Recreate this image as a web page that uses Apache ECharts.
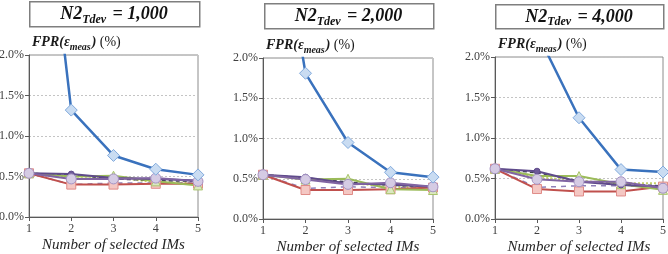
<!DOCTYPE html>
<html>
<head>
<meta charset="utf-8">
<script src="https://cdn.jsdelivr.net/npm/echarts@6/dist/echarts.min.js"></script>
<style>
  html, body { margin: 0; padding: 0; background: #fff; }
  #chart { width: 668px; height: 254px; }
</style>
</head>
<body>
<div id="chart"></div>
<script>
// number of selected IMs (x axis)
const imCounts = [1, 2, 3, 4, 5];
const yTicks = [0, 0.5, 1.0, 1.5, 2.0];
const panelValues = ["1,000", "2,000", "4,000"];

// FPR (%) per panel (first blue points are above the top)
const blueDiamond = [
  [5.8, 1.32, 0.76, 0.59, 0.52],
  [5.0, 1.81, 0.95, 0.58, 0.52],
  [5.0, 2.30, 1.25, 0.61, 0.58]
];
const redSquare = [
  [0.54, 0.40, 0.40, 0.41, 0.41],
  [0.55, 0.36, 0.36, 0.37, 0.39],
  [0.62, 0.37, 0.34, 0.34, 0.40]
];
const greenTriangle = [
  [0.54, 0.50, 0.51, 0.44, 0.39],
  [0.55, 0.49, 0.50, 0.37, 0.36],
  [0.62, 0.53, 0.53, 0.43, 0.36]
];
const darkPurple = [
  [0.54, 0.53, 0.48, 0.47, 0.45],
  [0.55, 0.52, 0.44, 0.43, 0.40],
  [0.62, 0.59, 0.46, 0.42, 0.40]
];
const lavenderCircle = [
  [0.54, 0.47, 0.47, 0.48, 0.44],
  [0.55, 0.49, 0.43, 0.45, 0.40],
  [0.62, 0.49, 0.46, 0.46, 0.38]
];
const dashedDark = [
  [0.54, 0.52, 0.47, 0.45, 0.44],
  [0.55, 0.51, 0.46, 0.42, 0.40],
  [0.62, 0.57, 0.47, 0.43, 0.41]
];
const dashedLow = [
  [0.54, 0.40, 0.42, 0.42, 0.42],
  [0.55, 0.38, 0.40, 0.39, 0.39],
  [0.62, 0.39, 0.41, 0.41, 0.40]
];
const dottedOlive = [
  [0.54, 0.50, 0.49, 0.43, 0.42],
  [0.55, 0.50, 0.45, 0.40, 0.39],
  [0.62, 0.52, 0.47, 0.44, 0.44]
];

// plot boxes (left, top, width, height) and title boxes
const grids = [
  { left: 29, top: 55, width: 169, height: 162 },
  { left: 263, top: 58, width: 170, height: 161 },
  { left: 495, top: 57, width: 168, height: 162 }
];
const titleBoxes = [
  { x: 29, y: 1, w: 170, h: 25 },
  { x: 264, y: 3, w: 169, h: 25 },
  { x: 495, y: 4, w: 168, h: 24 }
];

const serif = "'Liberation Serif', 'DejaVu Serif', serif";
const pairs = arr => arr.map((v, i) => [imCounts[i], v]);

const myChart = echarts.init(document.getElementById("chart"));

const grid = [], xAxis = [], yAxis = [], series = [], graphic = [];

grids.forEach((g, p) => {
  grid.push({
    left: g.left, top: g.top, width: g.width, height: g.height,
    outerBoundsMode: "none", containLabel: false,
    show: true, borderColor: "#8c8c8c", borderWidth: 1, backgroundColor: "transparent"
  });
  xAxis.push({
    gridIndex: p, type: "value", min: 1, max: 5, interval: 1,
    name: "Number of selected IMs", nameLocation: "middle", nameGap: 21,
    nameMoveOverlap: false,
    nameTextStyle: { fontFamily: serif, fontStyle: "italic", fontSize: 15, color: "#262626" },
    axisLine: { lineStyle: { color: "#595959", width: 1 } },
    axisTick: { show: true, length: 4, lineStyle: { color: "#595959" } },
    axisLabel: { fontFamily: serif, fontSize: 12, color: "#404040", margin: 6 },
    splitLine: { show: false }
  });
  yAxis.push({
    gridIndex: p, type: "value", min: 0, max: 2, interval: 0.5,
    name: "{b|FPR(ε}{s|meas}{b|)} {r|(%)}", nameLocation: "end", nameGap: 3,
    nameMoveOverlap: false,
    nameTextStyle: {
      align: "left", padding: [0, 0, 0, 3],
      rich: {
        b: { fontFamily: serif, fontWeight: "bold", fontStyle: "italic", fontSize: 14, color: "#1a1a1a", lineHeight: 19 },
        s: { fontFamily: serif, fontWeight: "bold", fontStyle: "italic", fontSize: 10, color: "#1a1a1a", lineHeight: 10, verticalAlign: "bottom", padding: [0, 1, 0, 0] },
        r: { fontFamily: serif, fontSize: 14, color: "#1a1a1a", lineHeight: 19 }
      }
    },
    axisLine: { show: true, lineStyle: { color: "#595959", width: 1 } },
    axisTick: { show: true, length: 4, lineStyle: { color: "#595959" } },
    axisLabel: {
      fontFamily: serif, fontSize: 12, color: "#404040", margin: 5,
      formatter: v => v.toFixed(1) + "%"
    },
    splitLine: { show: true, lineStyle: { color: "#c4c4c4", type: [2, 2], width: 1 } }
  });

  const base = { type: "line", xAxisIndex: p, yAxisIndex: p, clip: true, animation: false, z: 3 };

  series.push(Object.assign({}, base, {
    name: "dotted", data: pairs(dottedOlive[p]), symbol: "none",
    lineStyle: { color: "#c3d069", width: 2, type: [2, 2] }
  }));
  series.push(Object.assign({}, base, {
    name: "dashed low", data: pairs(dashedLow[p]), symbol: "none",
    lineStyle: { color: "#8f80b8", width: 1.5, type: [5, 5] }
  }));
  series.push(Object.assign({}, base, {
    name: "dashed", data: pairs(dashedDark[p]), symbol: "none",
    lineStyle: { color: "#3f3f4f", width: 1.5, type: [4, 3] }
  }));
  series.push(Object.assign({}, base, {
    name: "red", data: pairs(redSquare[p]), symbol: "rect", symbolSize: 9,
    lineStyle: { color: "#c0504d", width: 2 },
    itemStyle: { color: "#f4c7c3", borderColor: "#e08c88", borderWidth: 1 }
  }));
  series.push(Object.assign({}, base, {
    name: "green", data: pairs(greenTriangle[p]), symbol: "triangle", symbolSize: 9,
    lineStyle: { color: "#9bbb59", width: 2 },
    itemStyle: { color: "#dbe8c0", borderColor: "#a9c46c", borderWidth: 1 }
  }));
  series.push(Object.assign({}, base, {
    name: "purple", data: pairs(darkPurple[p]), symbol: "circle", symbolSize: 6,
    lineStyle: { color: "#5f4b8b", width: 2 },
    itemStyle: { color: "#6d5a98", borderColor: "#5f4b8b", borderWidth: 1 }
  }));
  series.push(Object.assign({}, base, {
    name: "lavender", data: pairs(lavenderCircle[p]), symbol: "circle", symbolSize: 10,
    lineStyle: { color: "#8064a2", width: 2 },
    itemStyle: { color: "#d5cbe4", borderColor: "#a493c3", borderWidth: 1 }
  }));
  series.push(Object.assign({}, base, {
    name: "blue", data: pairs(blueDiamond[p]), symbol: "diamond", symbolSize: 12,
    lineStyle: { color: "#3a72bd", width: 2.5 },
    itemStyle: { color: "#c9dcf2", borderColor: "#80a9dc", borderWidth: 1 }
  }));

  const t = titleBoxes[p];
  graphic.push({
    type: "rect", left: t.x, top: t.y,
    shape: { width: t.w, height: t.h },
    style: { fill: "#fff", stroke: "#7f7f7f", lineWidth: 1.5 }
  });
  graphic.push({
    type: "text", x: t.x + t.w / 2, y: t.y + t.h / 2 + 1,
    style: {
      text: "{b|N2}{s|Tdev}{b| = " + panelValues[p] + "}",
      align: "center", verticalAlign: "middle",
      rich: {
        b: { fontFamily: serif, fontWeight: "bold", fontStyle: "italic", fontSize: 18, fill: "#111", lineHeight: 22 },
        s: { fontFamily: serif, fontWeight: "bold", fontStyle: "italic", fontSize: 12, fill: "#111", lineHeight: 12, verticalAlign: "bottom", padding: [0, 2, 0, 0] }
      }
    }
  });
});

myChart.setOption({
  animation: false,
  grid: grid,
  xAxis: xAxis,
  yAxis: yAxis,
  series: series,
  graphic: graphic
});
</script>
</body>
</html>
